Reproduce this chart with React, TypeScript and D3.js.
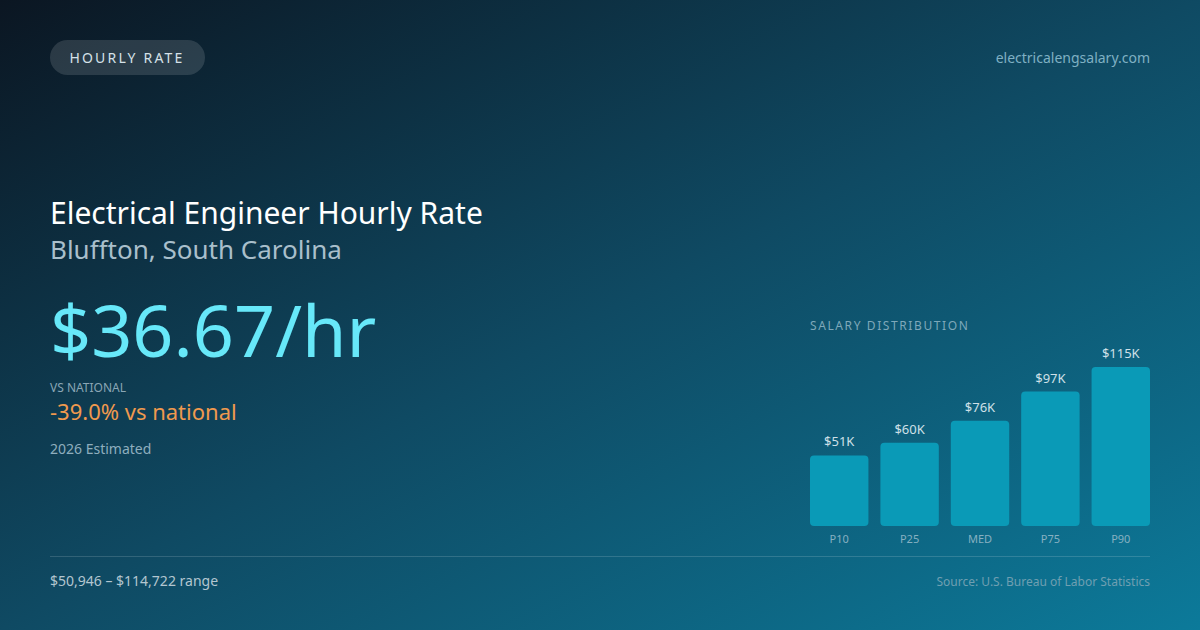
import { useEffect, useRef } from 'react'
import * as d3 from 'd3'

const categories = ['P10', 'P25', 'MED', 'P75', 'P90']
const salaries = [50946, 60000, 76000, 97000, 114722]
const valueLabels = ['$51K', '$60K', '$76K', '$97K', '$115K']

const width = 1200
const height = 630
const font = '"Noto Sans", "Open Sans", sans-serif'

export default function App() {
  const svgRef = useRef<SVGSVGElement>(null)

  useEffect(() => {
    document.body.style.margin = '0'
    if (!svgRef.current) return
    const svg = d3.select(svgRef.current)
    svg.selectAll('*').remove()

    // background gradient
    const defs = svg.append('defs')
    const grad = defs.append('linearGradient')
      .attr('id', 'bg')
      .attr('x1', '0%').attr('y1', '0%')
      .attr('x2', '100%').attr('y2', '100%')
    grad.append('stop').attr('offset', '0%').attr('stop-color', '#0b1622')
    grad.append('stop').attr('offset', '50%').attr('stop-color', '#0f4a63')
    grad.append('stop').attr('offset', '100%').attr('stop-color', '#0c7a9a')

    svg.append('rect')
      .attr('width', width)
      .attr('height', height)
      .attr('fill', 'url(#bg)')

    // pill badge
    svg.append('rect')
      .attr('x', 50).attr('y', 40)
      .attr('width', 155).attr('height', 35)
      .attr('rx', 17.5)
      .attr('fill', 'rgba(255,255,255,0.13)')
    svg.append('text')
      .attr('x', 127).attr('y', 63)
      .attr('text-anchor', 'middle')
      .style('font-family', font)
      .style('font-size', '14px')
      .style('letter-spacing', '2.2px')
      .style('fill', '#d5e1e8')
      .text('HOURLY RATE')

    svg.append('text')
      .attr('x', 1150).attr('y', 63)
      .attr('text-anchor', 'end')
      .style('font-family', font)
      .style('font-size', '14px')
      .style('fill', '#7fb0c3')
      .text('electricalengsalary.com')

    // headline block
    svg.append('text')
      .attr('x', 50).attr('y', 224)
      .style('font-family', font)
      .style('font-size', '30px')
      .style('fill', '#ffffff')
      .text('Electrical Engineer Hourly Rate')

    svg.append('text')
      .attr('x', 50).attr('y', 259)
      .style('font-family', font)
      .style('font-size', '26px')
      .style('fill', '#a9bfcb')
      .text('Bluffton, South Carolina')

    svg.append('text')
      .attr('x', 50).attr('y', 357)
      .style('font-family', font)
      .style('font-size', '72px')
      .style('fill', '#67e8f9')
      .text('$36.67/hr')

    svg.append('text')
      .attr('x', 50).attr('y', 392)
      .style('font-family', font)
      .style('font-size', '12px')
      .style('fill', '#8aa6b5')
      .text('VS NATIONAL')

    svg.append('text')
      .attr('x', 50).attr('y', 420)
      .style('font-family', font)
      .style('font-size', '22px')
      .style('fill', '#f0994e')
      .text('-39.0% vs national')

    svg.append('text')
      .attr('x', 50).attr('y', 454)
      .style('font-family', font)
      .style('font-size', '14px')
      .style('fill', '#8eaebe')
      .text('2026 Estimated')

    // salary distribution chart
    const chartLeft = 810
    const chartRight = 1150
    const baseY = 526

    svg.append('text')
      .attr('x', chartLeft).attr('y', 330)
      .style('font-family', font)
      .style('font-size', '12px')
      .style('letter-spacing', '1.6px')
      .style('fill', '#7ea8ba')
      .text('SALARY DISTRIBUTION')

    const xScale = d3.scaleBand()
      .domain(categories)
      .range([chartLeft, chartRight])
      .paddingInner(0.17)
      .paddingOuter(0)

    const yScale = d3.scaleLinear()
      .domain([0, d3.max(salaries)!])
      .range([baseY, baseY - 159])

    const g = svg.append('g')

    categories.forEach((c, i) => {
      const x = xScale(c)!
      const y = yScale(salaries[i])
      g.append('rect')
        .attr('x', x)
        .attr('y', y)
        .attr('width', xScale.bandwidth())
        .attr('height', baseY - y)
        .attr('rx', 4)
        .attr('fill', '#0a9ab7')

      g.append('text')
        .attr('x', x + xScale.bandwidth() / 2)
        .attr('y', y - 9)
        .attr('text-anchor', 'middle')
        .style('font-family', font)
        .style('font-size', '13px')
        .style('fill', '#cfe0e8')
        .text(valueLabels[i])

      g.append('text')
        .attr('x', x + xScale.bandwidth() / 2)
        .attr('y', 543)
        .attr('text-anchor', 'middle')
        .style('font-family', font)
        .style('font-size', '11px')
        .style('fill', '#86b0c1')
        .text(c)
    })

    // divider and footer
    svg.append('line')
      .attr('x1', 50).attr('x2', 1150)
      .attr('y1', 556.5).attr('y2', 556.5)
      .attr('stroke', 'rgba(255,255,255,0.15)')
      .attr('stroke-width', 1)

    svg.append('text')
      .attr('x', 50).attr('y', 586)
      .style('font-family', font)
      .style('font-size', '14px')
      .style('fill', '#b3c6d0')
      .text('$50,946 – $114,722 range')

    svg.append('text')
      .attr('x', 1150).attr('y', 586)
      .attr('text-anchor', 'end')
      .style('font-family', font)
      .style('font-size', '12px')
      .style('fill', '#6f9fb1')
      .text('Source: U.S. Bureau of Labor Statistics')
  }, [])

  return <svg ref={svgRef} width={width} height={height} style={{ display: 'block' }} />
}
